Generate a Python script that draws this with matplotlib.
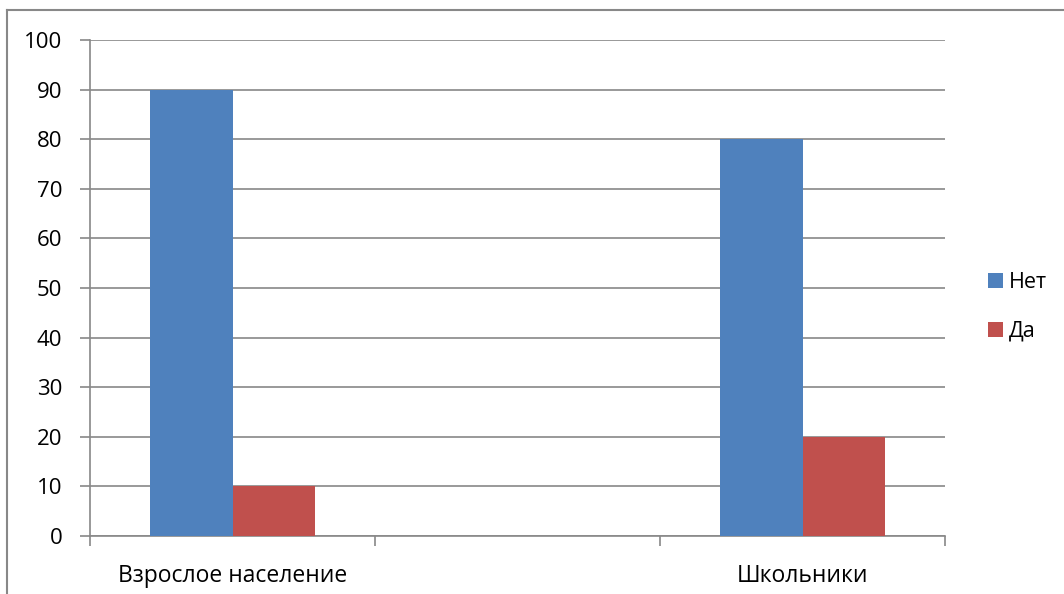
import matplotlib.pyplot as plt
from matplotlib.lines import Line2D
import numpy as np

plt.rcParams['font.family'] = ['Open Sans', 'DejaVu Sans']

categories = ["Взрослое население", "", "Школьники"]
net = [90, np.nan, 80]
da = [10, np.nan, 20]
series_names = ["Нет", "Да"]
colors = ["#4F81BD", "#C0504D"]
yticks = [0, 10, 20, 30, 40, 50, 60, 70, 80, 90, 100]

fig = plt.figure(figsize=(10.64, 5.94), dpi=100)
ax = fig.add_axes([90 / 1064, 1 - 536 / 594, 855 / 1064, 496 / 594])

x = np.arange(len(categories))
w = 0.288
ax.bar(x - w / 2, net, width=w, color=colors[0], label=series_names[0], zorder=3)
ax.bar(x + w / 2, da, width=w, color=colors[1], label=series_names[1], zorder=3)

ax.set_xlim(-0.5, len(categories) - 0.5)
ax.set_ylim(0, 100)
ax.set_yticks(yticks)
ax.yaxis.grid(True, color='#888888', linewidth=1.2, zorder=0)
ax.set_xticks(x)
ax.set_xticklabels(categories)
ax.set_xticks(np.arange(len(categories) + 1) - 0.5, minor=True)
ax.tick_params(axis='x', which='major', length=0, pad=20, labelsize=16.5)
ax.tick_params(axis='x', which='minor', length=7, width=1.2, color='#888888', direction='out')
ax.tick_params(axis='y', length=7, width=1.2, color='#888888', labelsize=16, pad=13)

for s in ['top', 'right']:
    ax.spines[s].set_visible(False)
for s in ['left', 'bottom']:
    ax.spines[s].set_color('#888888')
    ax.spines[s].set_linewidth(1.2)

leg = fig.legend(loc='center left', bbox_to_anchor=(988 / 1064, 1 - 307 / 594),
                 frameon=False, fontsize=15.5, handlelength=0.7, handleheight=0.7,
                 handletextpad=0.25, labelspacing=1.3, borderpad=0, borderaxespad=0)

# chart border (top and left visible in reference)
fig.add_artist(Line2D([7 / 1064, 7 / 1064], [0, 1 - 10 / 594], transform=fig.transFigure,
                      color='#888888', linewidth=1.5))
fig.add_artist(Line2D([7 / 1064, 1], [1 - 10 / 594, 1 - 10 / 594], transform=fig.transFigure,
                      color='#888888', linewidth=1.5))

plt.savefig('out.png', dpi=100)
